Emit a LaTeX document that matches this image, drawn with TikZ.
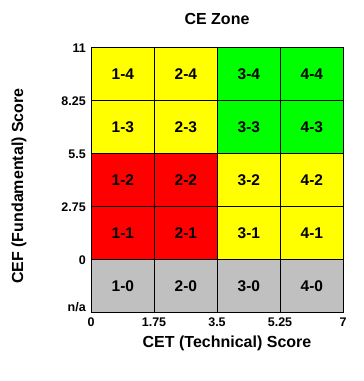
\documentclass[tikz,border=0pt]{standalone}
\usepackage{fontspec}
\setmainfont{Liberation Sans}
\begin{document}
\begin{tikzpicture}[x=1pt,y=-1pt,
  cell/.style={draw=black,line width=0.8pt,minimum width=63pt,minimum height=53pt,anchor=north west,inner sep=0pt,font=\bfseries\fontsize{15.5}{17}\selectfont},
  ytick/.style={anchor=east,inner sep=0pt,font=\bfseries\fontsize{12.5}{14}\selectfont},
  xtick/.style={anchor=center,inner sep=0pt,font=\bfseries\fontsize{12.5}{14}\selectfont},
  axlabel/.style={inner sep=0pt,font=\bfseries\fontsize{16}{18}\selectfont}]
\useasboundingbox[fill=white] (0,0) rectangle (364,381);
\definecolor{zyellow}{HTML}{FFFF00}
\definecolor{zgreen}{HTML}{00FF00}
\definecolor{zred}{HTML}{FF0000}
\definecolor{zgray}{HTML}{C0C0C0}
% row 4 (top)
\node[cell,fill=zyellow] (c14) at (91,47) {1-4};
\node[cell,fill=zyellow] (c24) at (154,47) {2-4};
\node[cell,fill=zgreen] (c34) at (217,47) {3-4};
\node[cell,fill=zgreen] (c44) at (280,47) {4-4};
% row 3
\node[cell,fill=zyellow] (c13) at (91,100) {1-3};
\node[cell,fill=zyellow] (c23) at (154,100) {2-3};
\node[cell,fill=zgreen] (c33) at (217,100) {3-3};
\node[cell,fill=zgreen] (c43) at (280,100) {4-3};
% row 2
\node[cell,fill=zred] (c12) at (91,153) {1-2};
\node[cell,fill=zred] (c22) at (154,153) {2-2};
\node[cell,fill=zyellow] (c32) at (217,153) {3-2};
\node[cell,fill=zyellow] (c42) at (280,153) {4-2};
% row 1
\node[cell,fill=zred] (c11) at (91,206) {1-1};
\node[cell,fill=zred] (c21) at (154,206) {2-1};
\node[cell,fill=zyellow] (c31) at (217,206) {3-1};
\node[cell,fill=zyellow] (c41) at (280,206) {4-1};
% row 0
\node[cell,fill=zgray] (c10) at (91,259) {1-0};
\node[cell,fill=zgray] (c20) at (154,259) {2-0};
\node[cell,fill=zgray] (c30) at (217,259) {3-0};
\node[cell,fill=zgray] (c40) at (280,259) {4-0};
% y ticks
\node[ytick] (y11) at (86,48) {11};
\node[ytick] (y825) at (86,101) {8.25};
\node[ytick] (y55) at (86,154) {5.5};
\node[ytick] (y275) at (86,207) {2.75};
\node[ytick] (y0) at (86,260) {0};
\node[ytick] (yna) at (86,307) {n/a};
% x ticks
\node[xtick] (x0) at (91,322) {0};
\node[xtick] (x175) at (154,322) {1.75};
\node[xtick] (x35) at (217,322) {3.5};
\node[xtick] (x525) at (280,322) {5.25};
\node[xtick] (x7) at (343,322) {7};
% titles
\node[axlabel] (title) at (217,19) {CE Zone};
\node[axlabel] (xlab) at (227,343) {CET (Technical) Score};
\node[axlabel,rotate=90] (ylab) at (19,186) {CEF (Fundamental) Score};
\end{tikzpicture}
\end{document}
